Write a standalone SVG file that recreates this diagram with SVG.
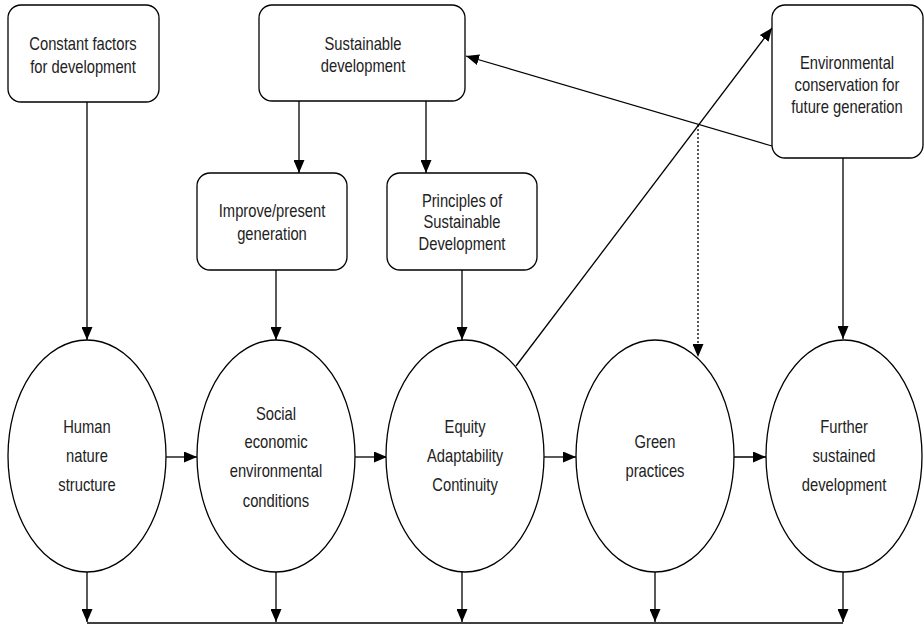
<svg xmlns="http://www.w3.org/2000/svg" width="924" height="625" viewBox="0 0 924 625">
<style>
.box{fill:#fff;stroke:#000;stroke-width:1.3}
.ell{fill:#fff;stroke:#000;stroke-width:1.3}
.t{font-family:"Liberation Sans",Arial,sans-serif;font-size:18px;fill:#222;text-anchor:middle;transform-box:fill-box;transform-origin:center;transform:scaleX(0.82)}
.c{stroke:#000;stroke-width:1.3;fill:none}
.a{marker-end:url(#ah)}
.d{stroke-dasharray:2,2}
</style>
<defs>
<marker id="ah" markerUnits="userSpaceOnUse" markerWidth="13" markerHeight="11" refX="13" refY="5.5" orient="auto">
<path d="M0,0 L13,5.5 L0,11 z" fill="#000"/>
</marker>
</defs>
<g id="connectors">
<line class="c a" x1="87" y1="102" x2="87" y2="340"/>
<line class="c a" x1="299" y1="101" x2="299" y2="173"/>
<line class="c a" x1="426" y1="101" x2="426" y2="173"/>
<line class="c a" x1="276" y1="270" x2="276" y2="340"/>
<line class="c a" x1="462" y1="270" x2="462" y2="340"/>
<line class="c a" x1="843" y1="158" x2="843" y2="339"/>
<line class="c a" x1="772" y1="146" x2="466" y2="56"/>
<line class="c a" x1="516" y1="366" x2="772" y2="28"/>
<line class="c a d" x1="698" y1="125" x2="698" y2="357"/>
<line class="c a" x1="166" y1="457" x2="197" y2="457"/>
<line class="c a" x1="355" y1="457" x2="387" y2="457"/>
<line class="c a" x1="544" y1="457" x2="576" y2="457"/>
<line class="c a" x1="733" y1="457" x2="766" y2="457"/>
<line class="c a" x1="87" y1="572" x2="87" y2="622"/>
<line class="c a" x1="276" y1="572" x2="276" y2="622"/>
<line class="c a" x1="462" y1="572" x2="462" y2="622"/>
<line class="c a" x1="655" y1="572" x2="655" y2="622"/>
<line class="c a" x1="843" y1="572" x2="843" y2="622"/>
<line class="c" x1="87" y1="623" x2="843" y2="623"/>
</g>
<g id="constant">
<rect class="box" x="8" y="5" width="151" height="97" rx="13"/>
<text class="t" x="83" y="50">Constant factors</text>
<text class="t" x="83" y="73">for development</text>
</g>
<g id="sustainable">
<rect class="box" x="259" y="5" width="206" height="96" rx="13"/>
<text class="t" x="363" y="50">Sustainable</text>
<text class="t" x="363" y="72">development</text>
</g>
<g id="environmental">
<rect class="box" x="772" y="5" width="151" height="153" rx="13"/>
<text class="t" x="847" y="69">Environmental</text>
<text class="t" x="847" y="91">conservation for</text>
<text class="t" x="847" y="113">future generation</text>
</g>
<g id="improve">
<rect class="box" x="197" y="173" width="150" height="97" rx="13"/>
<text class="t" x="272" y="217">Improve/present</text>
<text class="t" x="272" y="240">generation</text>
</g>
<g id="principles">
<rect class="box" x="387" y="173" width="150" height="97" rx="13"/>
<text class="t" x="462" y="207">Principles of</text>
<text class="t" x="462" y="228">Sustainable</text>
<text class="t" x="462" y="250">Development</text>
</g>
<g id="human">
<ellipse class="ell" cx="87" cy="456" rx="79" ry="116"/>
<text class="t" x="87" y="433">Human</text>
<text class="t" x="87" y="462">nature</text>
<text class="t" x="87" y="491">structure</text>
</g>
<g id="social">
<ellipse class="ell" cx="276" cy="456" rx="79" ry="116"/>
<text class="t" x="276" y="420">Social</text>
<text class="t" x="276" y="448">economic</text>
<text class="t" x="276" y="477">environmental</text>
<text class="t" x="276" y="507">conditions</text>
</g>
<g id="equity">
<ellipse class="ell" cx="465" cy="456" rx="79" ry="116"/>
<text class="t" x="465" y="433">Equity</text>
<text class="t" x="465" y="462">Adaptability</text>
<text class="t" x="465" y="491">Continuity</text>
</g>
<g id="green">
<ellipse class="ell" cx="655" cy="456" rx="79" ry="116"/>
<text class="t" x="655" y="448">Green</text>
<text class="t" x="655" y="477">practices</text>
</g>
<g id="further">
<ellipse class="ell" cx="844" cy="456" rx="78" ry="116"/>
<text class="t" x="844" y="433">Further</text>
<text class="t" x="844" y="462">sustained</text>
<text class="t" x="844" y="491">development</text>
</g>
</svg>
